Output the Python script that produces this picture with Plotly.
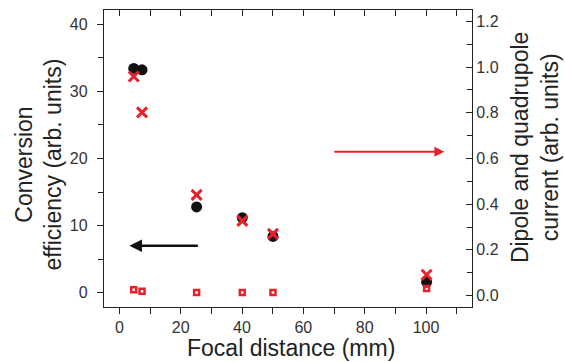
import plotly.graph_objects as go

focal_mm = [4.7, 7.4, 25.2, 40.1, 50.1, 100.2]
conversion_eff = [33.4, 33.2, 12.8, 11.2, 8.4, 1.6]
dipole_current = [0.959, 0.802, 0.441, 0.327, 0.270, 0.091]
quadrupole_current = [0.025, 0.019, 0.013, 0.013, 0.013, 0.031]

x_ticks = [0, 20, 40, 60, 80, 100]
y_left_ticks = [0, 10, 20, 30, 40]
y_right_ticks = [0.0, 0.2, 0.4, 0.6, 0.8, 1.0, 1.2]

x_title = "Focal distance (mm)"
y_left_title = "Conversion<br>efficiency (arb. units)"
y_right_title = "Dipole and quadrupole<br>current (arb. units)"

RED = "#e8202a"
INK = "#222222"
FONT = "Liberation Sans, Arial, sans-serif"

fig = go.Figure()
fig.add_trace(go.Scatter(x=focal_mm, y=conversion_eff, mode="markers",
                         marker=dict(symbol="circle", size=11, color="#111111"),
                         yaxis="y", showlegend=False))
fig.add_trace(go.Scatter(x=focal_mm, y=dipole_current, mode="markers",
                         marker=dict(symbol="x-thin", size=10, color=RED,
                                     line=dict(color=RED, width=3)),
                         yaxis="y2", showlegend=False))
fig.add_trace(go.Scatter(x=focal_mm, y=quadrupole_current, mode="markers",
                         marker=dict(symbol="square-open", size=5, color=RED,
                                     line=dict(color=RED, width=2.5)),
                         yaxis="y2", showlegend=False))
# dummy trace for top mirror axis
fig.add_trace(go.Scatter(x=[None], y=[None], xaxis="x2", yaxis="y", showlegend=False))

axis_common = dict(showline=True, linecolor=INK, linewidth=1.3, showgrid=False,
                   zeroline=False, tickcolor=INK, tickwidth=1.2, automargin=False,
                   tickfont=dict(family=FONT, size=16, color="#333"))

fig.update_layout(
    width=565, height=362,
    margin=dict(l=104, r=93, t=10, b=55),
    paper_bgcolor="white", plot_bgcolor="white",
    font=dict(family=FONT, color=INK),
    xaxis=dict(range=[-5, 115], tickvals=x_ticks, ticks="outside", ticklen=6,
               minor=dict(dtick=10, tick0=0, ticks="outside", ticklen=6, tickcolor=INK),
               **axis_common),
    xaxis2=dict(range=[-5, 115], overlaying="x", side="top", tickvals=x_ticks,
                ticks="inside", ticklen=6, showticklabels=False,
                minor=dict(dtick=10, tick0=0, ticks="inside", ticklen=6, tickcolor=INK),
                **axis_common),
    yaxis=dict(range=[-2.1, 42.1], tickvals=y_left_ticks, ticks="outside", ticklen=6,
               ticklabelstandoff=6,
               minor=dict(dtick=5, tick0=0, ticks="outside", ticklen=5, tickcolor=INK),
               **axis_common),
    yaxis2=dict(range=[-0.05, 1.25], overlaying="y", side="right",
                tickvals=y_right_ticks, tickformat=".1f", ticks="inside", ticklen=6,
                minor=dict(dtick=0.1, tick0=0, ticks="inside", ticklen=5, tickcolor=INK),
                **axis_common),
)

title_font = dict(family=FONT, size=23, color=INK)
# x title
fig.add_annotation(text=x_title, xref="paper", yref="paper", x=0.508, y=0,
                   xanchor="center", yanchor="middle", yshift=-41,
                   showarrow=False, font=title_font)
# left y title
fig.add_annotation(text=y_left_title, xref="paper", yref="paper", x=0, y=0.48,
                   xanchor="center", yanchor="middle", xshift=-65, textangle=-90,
                   showarrow=False, font=title_font)
# right y title
fig.add_annotation(text=y_right_title, xref="paper", yref="paper", x=1, y=0.535,
                   xanchor="center", yanchor="middle", xshift=63, textangle=-90,
                   showarrow=False, font=title_font)

fig.add_annotation(x=3.3, y=7.0, ax=26.1, ay=7.0, xref="x", yref="y", axref="x", ayref="y",
                   text="", showarrow=True, arrowhead=2, arrowsize=1, arrowwidth=2.5,
                   arrowcolor="#111111")
fig.add_annotation(x=106, y=21.0, ax=69.6, ay=21.0, xref="x", yref="y", axref="x", ayref="y",
                   text="", showarrow=True, arrowhead=2, arrowsize=1, arrowwidth=2,
                   arrowcolor=RED)

fig.write_html("out.html", config={"displayModeBar": False},
               post_script="document.body.style.margin='0';document.body.style.overflow='hidden';")
